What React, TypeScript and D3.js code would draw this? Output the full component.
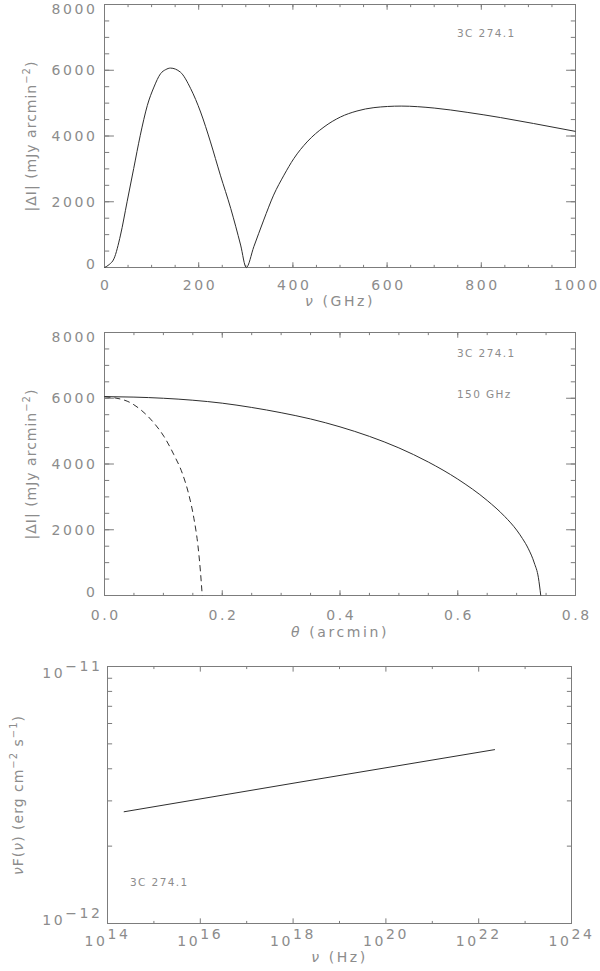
import React from 'react';
import * as d3 from 'd3';

// top panel: |dI| spectrum against frequency (GHz)
const specNu = [0, 10, 20, 34, 48, 62, 76, 91, 105, 119, 130, 140, 161, 183, 204, 225, 246, 268, 289, 301, 317, 338, 359, 381, 402, 430, 466, 501, 536, 572, 630, 700, 770, 841, 911, 1000];
const specFlux = [0, 90, 264, 987, 2000, 3011, 4022, 4933, 5489, 5895, 6020, 6066, 5944, 5440, 4730, 3819, 2808, 1797, 683, 0, 631, 1442, 2201, 2808, 3314, 3819, 4274, 4578, 4760, 4863, 4910, 4850, 4720, 4560, 4380, 4140];

// middle panel: |dI| profile against radius at 150 GHz
const profTheta = [0, 0.05, 0.1, 0.15, 0.2, 0.25, 0.3, 0.35, 0.4, 0.45, 0.5, 0.55, 0.6, 0.65, 0.68, 0.7, 0.71, 0.72, 0.73, 0.737, 0.741];
const profFlux = [6050, 6035, 6000, 5940, 5850, 5720, 5560, 5370, 5130, 4840, 4490, 4060, 3540, 2890, 2400, 1990, 1730, 1420, 990, 540, 0];
const profThetaDash = [0, 0.0385, 0.061, 0.0838, 0.1008, 0.1178, 0.132, 0.1433, 0.1518, 0.1586, 0.163, 0.166];
const profFluxDash = [6050, 5911, 5658, 5252, 4843, 4284, 3725, 3063, 2351, 1536, 721, 0];

// bottom panel: nuF(nu) power law
const sedNu = [2.24e14, 1.41e18, 2.24e22];
const sedFlux = [2.72e-12, 3.55e-12, 4.75e-12];

const fluxMajor = [0, 2000, 4000, 6000, 8000];
const nuMajor = [0, 200, 400, 600, 800, 1000];
const thetaMajor = [0, 0.2, 0.4, 0.6, 0.8];
const logNuMajor = [14, 16, 18, 20, 22, 24];
const logFluxMajor = [-12, -11];

const AXIS = '#7c7c7c';
const TEXT = '#8c8c8c';
const INK = '#2e2e2e';
const FONT = '"DejaVu Sans", sans-serif';

type Box = { left: number; right: number; top: number; bottom: number };

const topBox: Box = { left: 104.5, right: 575.5, top: 4.5, bottom: 267.5 };
const midBox: Box = { left: 104.5, right: 575.5, top: 332.5, bottom: 595.5 };
const botBox: Box = { left: 107.5, right: 571.5, top: 666.5, bottom: 923.5 };

// tick segments on all four sides, IDL style (inward, length = 2% of the other dimension)
const tickPath = (box: Box, xs: number[], xsMinor: number[], ys: number[], ysMinor: number[]) => {
    const lx = 0.02 * (box.bottom - box.top);
    const ly = 0.02 * (box.right - box.left);
    const p = d3.path();
    const vx = (px: number, len: number) => {
        p.moveTo(px, box.bottom); p.lineTo(px, box.bottom - len);
        p.moveTo(px, box.top); p.lineTo(px, box.top + len);
    };
    const hy = (py: number, len: number) => {
        p.moveTo(box.left, py); p.lineTo(box.left + len, py);
        p.moveTo(box.right, py); p.lineTo(box.right - len, py);
    };
    xs.forEach((v) => vx(v, lx));
    xsMinor.forEach((v) => vx(v, lx / 2));
    ys.forEach((v) => hy(v, ly));
    ysMinor.forEach((v) => hy(v, ly / 2));
    return p.toString();
};

const Frame = ({ box, d }: { box: Box; d: string }) => (
    <g fill="none" stroke={AXIS} strokeWidth={1}>
        <rect x={box.left} y={box.top} width={box.right - box.left} height={box.bottom - box.top} />
        <path d={d} />
    </g>
);

const labelStyle = { fontFamily: FONT, fill: TEXT, fontSize: 14, letterSpacing: 2.6 } as const;
const noteStyle = { fontFamily: FONT, fill: TEXT, fontSize: 10.5, letterSpacing: 1.4 } as const;

// y tick labels: centred on ticks, the end labels pulled inside the frame
const yLabelDy = (i: number, n: number) => (i === 0 ? 1.3 : i === n - 1 ? 9.8 : 5);

const LinearPanel = ({ box, xDomain, xMajor, xStep, xFmt, xs, ys, dashed, xLabel, xTickY, xLabelY, notes }: any) => {
    const x = d3.scaleLinear().domain(xDomain).range([box.left, box.right]);
    const y = d3.scaleLinear().domain([0, 8000]).range([box.bottom, box.top]);
    const xMinor = d3.range(xDomain[0], xDomain[1] + xStep / 2, xStep).map(x);
    const yMinor = d3.range(0, 8001, 500).map(y);
    const line = d3.line<number>().x((_, i) => x(xs[i])).y((v) => y(v)).curve(d3.curveMonotoneX);
    const dashLine = dashed
        ? d3.line<number>().x((_, i) => x(dashed.xs[i])).y((v) => y(v)).curve(d3.curveMonotoneX)(dashed.ys)
        : null;
    return (
        <g>
            <Frame box={box} d={tickPath(box, xMajor.map(x), xMinor, fluxMajor.map(y), yMinor)} />
            <path d={line(ys) || ''} fill="none" stroke={INK} strokeWidth={1} />
            {dashLine && <path d={dashLine} fill="none" stroke={INK} strokeWidth={1} strokeDasharray="6 4" />}
            {xMajor.map((v: number) => (
                <text key={`x${v}`} x={x(v) + 1.3} y={xTickY} textAnchor="middle" style={labelStyle}>{xFmt(v)}</text>
            ))}
            {fluxMajor.map((v, i) => (
                <text key={`y${v}`} x={box.left - 7} y={y(v) + yLabelDy(i, fluxMajor.length)} textAnchor="end" style={labelStyle}>{v}</text>
            ))}
            <text x={36} y={(box.top + box.bottom) / 2} transform={`rotate(-90 36 ${(box.top + box.bottom) / 2})`} textAnchor="middle" style={{ ...labelStyle, letterSpacing: 1 }}>
                |ΔI| (mJy arcmin<tspan dy={-6} fontSize={10}>−2</tspan><tspan dy={6}>)</tspan>
            </text>
            <text x={(box.left + box.right) / 2} y={xLabelY} textAnchor="middle" style={labelStyle}>
                <tspan fontStyle="italic">{xLabel[0]}</tspan>{xLabel[1]}
            </text>
            {notes.map((n: any) => (
                <text key={n.t} x={n.x} y={n.y} style={noteStyle}>{n.t}</text>
            ))}
        </g>
    );
};

const LogPanel = () => {
    const box = botBox;
    const x = d3.scaleLog().domain([1e14, 1e24]).range([box.left, box.right]);
    const y = d3.scaleLog().domain([1e-12, 1e-11]).range([box.bottom, box.top]);
    const xMinor = [15, 17, 19, 21, 23].map((e) => x(10 ** e));
    const yMinor = d3.range(2, 10).map((m) => y(m * 1e-12));
    const line = d3.line<number>().x((_, i) => x(sedNu[i])).y((v) => y(v));
    return (
        <g>
            <Frame box={box} d={tickPath(box, logNuMajor.map((e) => x(10 ** e)), xMinor, logFluxMajor.map((e) => y(10 ** e)), yMinor)} />
            <path d={line(sedFlux) || ''} fill="none" stroke={INK} strokeWidth={1} />
            {logNuMajor.map((e) => (
                <text key={`x${e}`} x={x(10 ** e)} y={box.bottom + 22} textAnchor="middle" style={labelStyle}>
                    10<tspan dy={-7}>{e}</tspan>
                </text>
            ))}
            {logFluxMajor.map((e, i) => (
                <text key={`y${e}`} x={box.left - 5} y={y(10 ** e) + (i === 0 ? 1.5 : 11)} textAnchor="end" style={labelStyle}>
                    10<tspan dy={-7}>{`−${-e}`}</tspan>
                </text>
            ))}
            <text x={23} y={795} transform="rotate(-90 23 795)" textAnchor="middle" style={{ ...labelStyle, letterSpacing: 1 }}>
                <tspan fontStyle="italic">ν</tspan>F(<tspan fontStyle="italic">ν</tspan>) (erg cm<tspan dy={-6} fontSize={10}>−2</tspan>
                <tspan dy={6}> s</tspan><tspan dy={-6} fontSize={10}>−1</tspan><tspan dy={6}>)</tspan>
            </text>
            <text x={(box.left + box.right) / 2} y={962} textAnchor="middle" style={labelStyle}>
                <tspan fontStyle="italic">ν</tspan> (Hz)
            </text>
            <text x={130} y={886} style={noteStyle}>3C 274.1</text>
        </g>
    );
};

const App = () => (
    <svg width={600} height={971} style={{ position: 'absolute', left: 0, top: 0, background: '#fff' }}>
        <LinearPanel
            box={topBox}
            xDomain={[0, 1000]}
            xMajor={nuMajor}
            xStep={50}
            xFmt={(v: number) => String(v)}
            xs={specNu}
            ys={specFlux}
            xLabel={['ν', ' (GHz)']}
            xTickY={289.5}
            xLabelY={306}
            notes={[{ t: '3C 274.1', x: 457, y: 37 }]}
        />
        <LinearPanel
            box={midBox}
            xDomain={[0, 0.8]}
            xMajor={thetaMajor}
            xStep={0.05}
            xFmt={d3.format('.1f')}
            xs={profTheta}
            ys={profFlux}
            dashed={{ xs: profThetaDash, ys: profFluxDash }}
            xLabel={['θ', ' (arcmin)']}
            xTickY={620}
            xLabelY={637}
            notes={[{ t: '3C 274.1', x: 457, y: 357 }, { t: '150 GHz', x: 457, y: 398 }]}
        />
        <LogPanel />
    </svg>
);

export default App;
